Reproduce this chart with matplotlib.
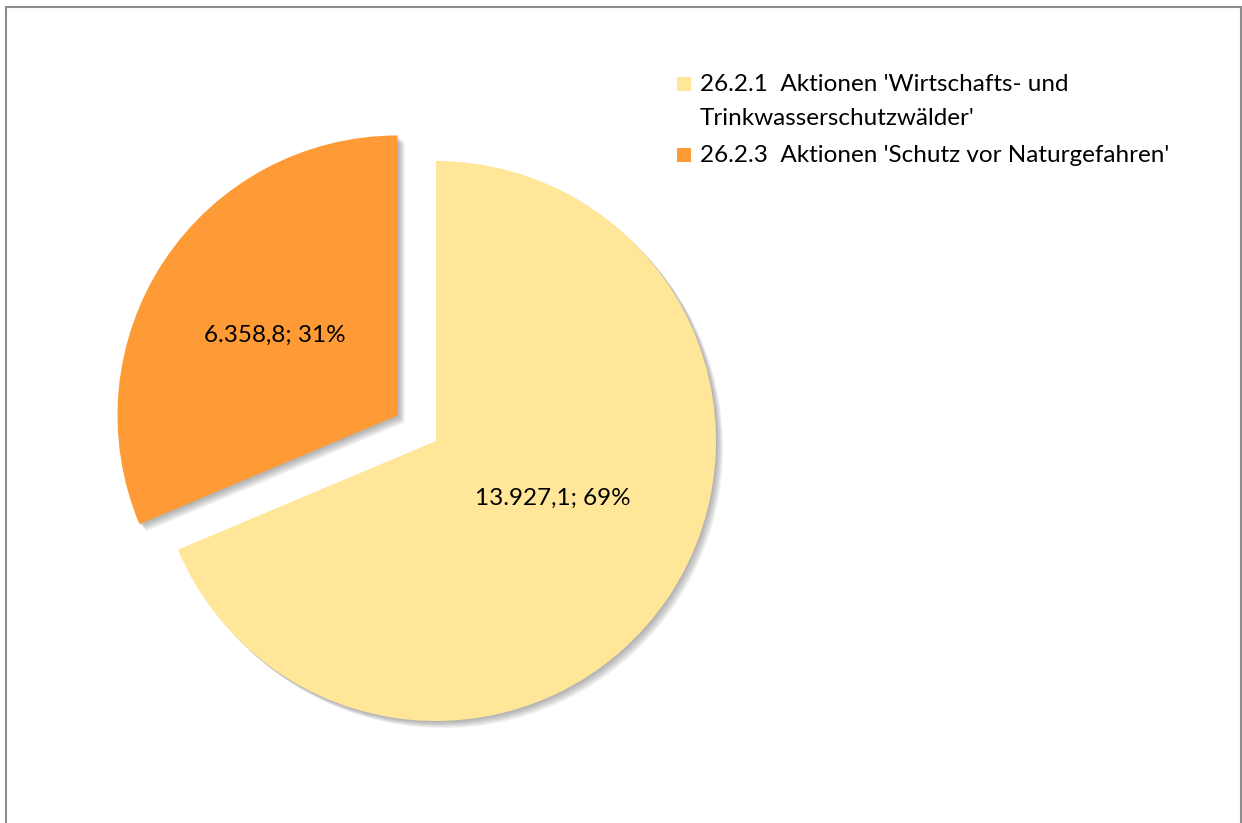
import matplotlib
matplotlib.use('Agg')
import matplotlib.pyplot as plt
import matplotlib.patheffects as pe
from matplotlib.patches import Rectangle

plt.rcParams['font.family'] = ['Lato', 'DejaVu Sans']

# 数据
labels = ["26.2.1  Aktionen 'Wirtschafts- und\nTrinkwasserschutzwälder'",
          "26.2.3  Aktionen 'Schutz vor Naturgefahren'"]
values = [13927.1, 6358.8]
colors = ['#FFE699', '#FF9B37']
explode = [0, 0.165]


def de_fmt(v):
    # 德式数字格式: 13.927,1
    s = f"{v:,.1f}"
    return s.replace(',', 'X').replace('.', ',').replace('X', '.')


total = sum(values)

W, H = 1242, 823
fig = plt.figure(figsize=(W / 100, H / 100), dpi=100)
fig.patch.set_facecolor('white')

# 饼图中心 (436, 441) px, 半径 280 px
R = 280
cx, cy = 436, H - 441
ax = fig.add_axes([(cx - 1.5 * R) / W, (cy - 1.5 * R) / H, 3 * R / W, 3 * R / H])

wedges, texts, autotexts = ax.pie(
    values, colors=colors, explode=explode, startangle=90, counterclock=False,
    radius=1.0, autopct=lambda p: f"{de_fmt(p * total / 100)}; {p:.0f}%",
    pctdistance=0.5, textprops=dict(fontsize=17.5, color='black'),
    wedgeprops=dict(linewidth=0))
ax.set_xlim(-1.5, 1.5)
ax.set_ylim(-1.5, 1.5)
ax.axis('off')

# 柔和阴影(多层叠加模拟模糊)
shadow = [pe.SimplePatchShadow(offset=(o, -o), shadow_rgbFace='#404040', alpha=0.09)
          for o in (1, 2, 3, 4, 5)]
for w in wedges:
    w.set_path_effects(shadow + [pe.Normal()])

# 调整标签位置
x, y = autotexts[0].get_position()
autotexts[0].set_position((x + 0.0, y + 0.07))
x, y = autotexts[1].get_position()
autotexts[1].set_position((x - 0.02, y + 0.01))

# 图例(手动绘制, 色块与首行对齐)
leg_rows = [84, 155]
for w, lab, yp in zip(wedges, labels, leg_rows):
    fig.patches.append(Rectangle((677 / W, 1 - (yp + 7) / H), 14 / W, 14 / H,
                                 transform=fig.transFigure,
                                 facecolor=w.get_facecolor(), edgecolor='none'))
    fig.text(700 / W, 1 - (yp - 10) / H, lab, fontsize=17.5, va='top', ha='left',
             linespacing=1.75, color='black')

# 外框
fig.patches.append(Rectangle((5.5 / W, -0.1), (1241 - 5.5) / W, (H - 7.5) / H + 0.1,
                             transform=fig.transFigure, fill=False,
                             edgecolor='#8C8C8C', linewidth=1.5))

fig.savefig('out.png', dpi=100, facecolor='white')
